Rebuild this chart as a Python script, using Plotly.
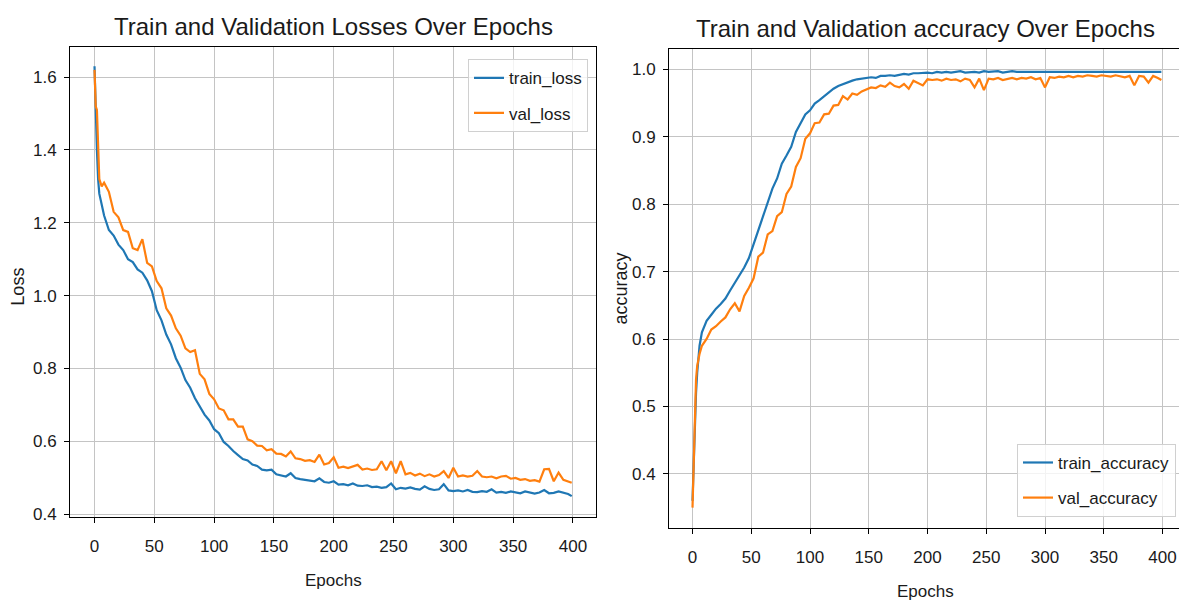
import subprocess
import plotly.graph_objects as go

# ---------------- data ----------------
epochs = [0, 1, 2, 3, 4, 6, 8] + list(range(12, 397, 4)) + [399]

train_loss = [
    1.63, 1.50, 1.40, 1.32, 1.28, 1.25, 1.22,
    1.18, 1.165, 1.14, 1.125, 1.10, 1.092, 1.072, 1.063, 1.042, 1.012,
    0.96, 0.932, 0.893, 0.866, 0.828, 0.802, 0.768, 0.747, 0.718, 0.697,
    0.673, 0.657, 0.633, 0.622, 0.598, 0.587, 0.573, 0.562, 0.551, 0.547,
    0.536, 0.532, 0.522, 0.52, 0.522, 0.509, 0.506, 0.503, 0.512, 0.499,
    0.496, 0.494, 0.491, 0.49, 0.498, 0.488, 0.486, 0.49, 0.481, 0.482,
    0.479, 0.484, 0.478, 0.477, 0.479, 0.474, 0.475, 0.472, 0.474, 0.484,
    0.468, 0.472, 0.47, 0.473, 0.469, 0.467, 0.476, 0.469, 0.466, 0.468,
    0.482, 0.465, 0.463, 0.465, 0.462, 0.466, 0.461, 0.46, 0.463, 0.461,
    0.468, 0.459, 0.461, 0.458, 0.462, 0.46, 0.457, 0.462, 0.458, 0.456,
    0.459, 0.466, 0.457, 0.458, 0.462, 0.459, 0.455, 0.449,
]

val_loss = [
    1.62, 1.52, 1.51, 1.42, 1.32, 1.30, 1.31,
    1.285, 1.23, 1.215, 1.18, 1.175, 1.13, 1.125, 1.155, 1.09, 1.08,
    1.04, 1.02, 0.965, 0.945, 0.91, 0.89, 0.855, 0.845, 0.85, 0.785,
    0.77, 0.73, 0.715, 0.69, 0.685, 0.66, 0.66, 0.64, 0.64, 0.605,
    0.60, 0.588, 0.587, 0.575, 0.578, 0.566, 0.565, 0.558, 0.572, 0.553,
    0.551, 0.546, 0.548, 0.543, 0.563, 0.536, 0.54, 0.556, 0.527, 0.53,
    0.526, 0.53, 0.535, 0.522, 0.525, 0.521, 0.523, 0.545, 0.52, 0.545,
    0.512, 0.545, 0.509, 0.513, 0.506, 0.511, 0.504, 0.509, 0.503, 0.507,
    0.518, 0.499, 0.527, 0.503, 0.506, 0.503, 0.505, 0.518, 0.503, 0.501,
    0.503, 0.498, 0.503, 0.505, 0.497, 0.499, 0.494, 0.496, 0.491, 0.493,
    0.489, 0.523, 0.524, 0.49, 0.514, 0.494, 0.489, 0.486,
]

train_accuracy = [
    0.36, 0.42, 0.48, 0.52, 0.55, 0.59, 0.61,
    0.627, 0.636, 0.645, 0.652, 0.66, 0.672, 0.683, 0.694, 0.706, 0.72,
    0.74, 0.762, 0.781, 0.80, 0.823, 0.838, 0.86, 0.872, 0.885, 0.907,
    0.92, 0.933, 0.939, 0.949, 0.954, 0.96, 0.966, 0.971, 0.975, 0.978,
    0.981, 0.983, 0.985, 0.986, 0.987, 0.988, 0.987, 0.99, 0.99, 0.991,
    0.99, 0.992, 0.993, 0.992, 0.994, 0.994, 0.995, 0.995, 0.994, 0.996,
    0.995, 0.996, 0.995, 0.996, 0.997, 0.995, 0.996, 0.996, 0.995, 0.997,
    0.996, 0.996, 0.997, 0.995, 0.996, 0.997, 0.996, 0.996, 0.997, 0.996,
    0.997, 0.996, 0.996, 0.997, 0.996, 0.997, 0.997, 0.996, 0.997, 0.996,
    0.997, 0.997, 0.996, 0.997, 0.997, 0.996, 0.997, 0.997, 0.996, 0.997,
    0.997, 0.996, 0.997, 0.997, 0.996, 0.997, 0.997, 0.996,
]

val_accuracy = [
    0.35, 0.42, 0.50, 0.54, 0.56, 0.578, 0.59,
    0.60, 0.614, 0.619, 0.626, 0.632, 0.644, 0.653, 0.641, 0.664, 0.676,
    0.69, 0.722, 0.728, 0.755, 0.76, 0.782, 0.788, 0.815, 0.826, 0.855,
    0.868, 0.897, 0.905, 0.92, 0.921, 0.933, 0.934, 0.946, 0.947, 0.96,
    0.955, 0.964, 0.962, 0.967, 0.97, 0.973, 0.972, 0.976, 0.974, 0.98,
    0.975, 0.973, 0.978, 0.971, 0.983, 0.979, 0.976, 0.985, 0.984, 0.985,
    0.983, 0.986, 0.984, 0.985, 0.982, 0.986, 0.984, 0.973, 0.986, 0.969,
    0.986, 0.985, 0.987, 0.984, 0.986, 0.987, 0.985, 0.987, 0.986, 0.988,
    0.985, 0.987, 0.973, 0.988, 0.987, 0.989, 0.988, 0.99, 0.988, 0.99,
    0.989, 0.991, 0.99, 0.989, 0.991, 0.99, 0.989, 0.991, 0.99, 0.988,
    0.99, 0.976, 0.99, 0.989, 0.98, 0.99, 0.987, 0.984,
]

x_ticks = [0, 50, 100, 150, 200, 250, 300, 350, 400]
loss_ticks = [0.4, 0.6, 0.8, 1.0, 1.2, 1.4, 1.6]
acc_ticks = [0.4, 0.5, 0.6, 0.7, 0.8, 0.9, 1.0]

# ---------------- font choice (narrow face if the system has one) ----------------
try:
    fams = subprocess.run(["fc-list", ":", "family"], capture_output=True,
                          text=True, timeout=10).stdout
except Exception:
    fams = ""
if "Liberation Sans Narrow" in fams:
    FONT = "Liberation Sans Narrow"
    S_TITLE, S_TICK, S_LAB, S_LEG = 28, 19, 20, 19
else:
    FONT = "Liberation Sans, Arial, sans-serif"
    S_TITLE, S_TICK, S_LAB, S_LEG = 24, 17, 17, 17

# ---------------- styling ----------------
W, H = 1179, 604
BLUE = "#1f77b4"
ORANGE = "#ff7f0e"
GRID = "#c4c4c4"
TXT = "#1a1a1a"


def px_x(p):
    return p / W


def px_y(p):
    return 1 - p / H


fig = go.Figure()
fig.add_trace(go.Scatter(x=epochs, y=train_loss, mode="lines", name="train_loss",
                         line=dict(color=BLUE, width=2.2), xaxis="x", yaxis="y",
                         legend="legend", legendgroup="a"))
fig.add_trace(go.Scatter(x=epochs, y=val_loss, mode="lines", name="val_loss",
                         line=dict(color=ORANGE, width=2.2), xaxis="x", yaxis="y",
                         legend="legend", legendgroup="b"))
fig.add_trace(go.Scatter(x=epochs, y=train_accuracy, mode="lines", name="train_accuracy",
                         line=dict(color=BLUE, width=2.2), xaxis="x2", yaxis="y2",
                         legend="legend2", legendgroup="c"))
fig.add_trace(go.Scatter(x=epochs, y=val_accuracy, mode="lines", name="val_accuracy",
                         line=dict(color=ORANGE, width=2.2), xaxis="x2", yaxis="y2",
                         legend="legend2", legendgroup="d"))

axis_common = dict(
    showgrid=True, gridcolor=GRID, gridwidth=1,
    zeroline=False, showline=True, linecolor="black", linewidth=1,
    ticks="outside", ticklen=5, tickwidth=1, tickcolor="black",
    tickfont=dict(family=FONT, size=S_TICK, color=TXT),
)

fig.update_layout(
    width=W, height=H,
    margin=dict(l=0, r=0, t=0, b=0),
    paper_bgcolor="white", plot_bgcolor="white",
    font=dict(family=FONT, color=TXT),
    xaxis=dict(domain=[px_x(70), px_x(596)], range=[-20.5, 419.3],
               tickvals=x_ticks, anchor="y", mirror=True, ticklabelstandoff=9,
               **axis_common),
    yaxis=dict(domain=[px_y(523), px_y(48)], range=[0.392, 1.6816],
               tickvals=loss_ticks, tickformat=".1f", anchor="x", mirror=True,
               ticklabelstandoff=4, **axis_common),
    xaxis2=dict(domain=[px_x(669), 1.0], range=[-20.0, 414.0],
                tickvals=x_ticks, anchor="y2", mirror=True, ticklabelstandoff=9,
                **axis_common),
    yaxis2=dict(domain=[px_y(534), px_y(50)], range=[0.3201, 1.0293],
                tickvals=acc_ticks, tickformat=".1f", anchor="x2", mirror=False,
                ticklabelstandoff=4, **axis_common),
    legend=dict(x=px_x(588), y=px_y(60), xanchor="right", yanchor="top",
                bgcolor="rgba(255,255,255,0.8)", bordercolor="#d0d0d0", borderwidth=1,
                font=dict(family=FONT, size=S_LEG, color=TXT), tracegroupgap=10,
                traceorder="grouped"),
    legend2=dict(x=px_x(1176), y=px_y(523), xanchor="right", yanchor="bottom",
                 bgcolor="rgba(255,255,255,0.8)", bordercolor="#d0d0d0", borderwidth=1,
                 font=dict(family=FONT, size=S_LEG, color=TXT), tracegroupgap=10,
                 traceorder="grouped"),
    annotations=[
        dict(text="Train and Validation Losses Over Epochs", x=px_x(333), y=px_y(27),
             xref="paper", yref="paper", showarrow=False, xanchor="center", yanchor="middle",
             font=dict(family=FONT, size=S_TITLE, color=TXT)),
        dict(text="Train and Validation accuracy Over Epochs", x=px_x(925), y=px_y(29),
             xref="paper", yref="paper", showarrow=False, xanchor="center", yanchor="middle",
             font=dict(family=FONT, size=S_TITLE, color=TXT)),
        dict(text="Epochs", x=px_x(333), y=px_y(587), xref="paper", yref="paper",
             showarrow=False, xanchor="center", yanchor="middle",
             font=dict(family=FONT, size=S_LAB, color=TXT)),
        dict(text="Epochs", x=px_x(925), y=px_y(598), xref="paper", yref="paper",
             showarrow=False, xanchor="center", yanchor="middle",
             font=dict(family=FONT, size=S_LAB, color=TXT)),
        dict(text="Loss", x=px_x(18), y=px_y(290), xref="paper", yref="paper",
             showarrow=False, xanchor="center", yanchor="middle", textangle=-90,
             font=dict(family=FONT, size=S_LEG + 1, color=TXT)),
        dict(text="accuracy", x=px_x(621), y=px_y(292), xref="paper", yref="paper",
             showarrow=False, xanchor="center", yanchor="middle", textangle=-90,
             font=dict(family=FONT, size=S_LEG + 1, color=TXT)),
    ],
)

fig.write_html(
    "out.html",
    config={"displayModeBar": False},
    post_script="document.body.style.margin='0';document.body.style.overflow='hidden';",
)
